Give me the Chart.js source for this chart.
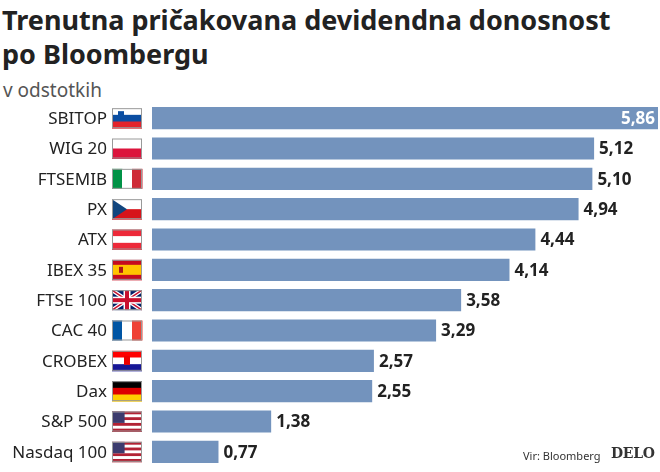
<!DOCTYPE html>
<html><head><meta charset="utf-8">
<script src="https://cdn.jsdelivr.net/npm/chart.js@4"></script>
<style>
body{margin:0;background:#fff;font-family:"Noto Sans",sans-serif;width:660px;height:472px;position:relative;overflow:hidden}
#t{position:absolute;left:2px;top:3px;font-size:27px;font-weight:bold;line-height:34px;color:#222;letter-spacing:0}
#s{position:absolute;left:3px;top:77px;font-size:19px;color:#555}
#wrap{position:absolute;left:0;top:103px;width:660px;height:364px}
#vir{position:absolute;left:523px;top:448px;font-size:11px;color:#333}
#delo{position:absolute;left:611px;top:445px;font-size:14px;font-weight:bold;font-family:"DejaVu Serif","Liberation Serif",serif;color:#333;letter-spacing:-0.3px}
</style></head><body>
<div id="t">Trenutna pričakovana devidendna donosnost<br>po Bloombergu</div>
<div id="s">v odstotkih</div>
<div id="wrap"><canvas id="c"></canvas></div>
<div id="vir">Vir: Bloomberg</div>
<div id="delo">DELO</div>
<script>
const labels = ['SBITOP','WIG 20','FTSEMIB','PX','ATX','IBEX 35','FTSE 100','CAC 40','CROBEX','Dax','S&P 500','Nasdaq 100'];
const values = [5.86,5.12,5.10,4.94,4.44,4.14,3.58,3.29,2.57,2.55,1.38,0.77];
const flags = ['si','pl','it','cz','at','es','gb','fr','hr','de','us','us'];

function drawFlag(ctx, f, x, y, w, h){
  ctx.save();
  const hs=(cols,rat)=>{let tot=rat.reduce((a,b)=>a+b),yy=y;cols.forEach((c,i)=>{const hh=h*rat[i]/tot;ctx.fillStyle=c;ctx.fillRect(x,yy,w,hh+0.5);yy+=hh;});};
  const vs=(cols)=>{cols.forEach((c,i)=>{ctx.fillStyle=c;ctx.fillRect(x+w*i/3,y,w/3+0.5,h);});};
  if(f==='si'){hs(['#fff','#0b4ea2','#e3232b'],[1,1,1]);ctx.fillStyle='#0b4ea2';ctx.fillRect(x+6,y+3,6,7);}
  else if(f==='pl')hs(['#fff','#dc143c'],[1,1]);
  else if(f==='it')vs(['#009246','#fff','#ce2b37']);
  else if(f==='cz'){hs(['#fff','#d7141a'],[1,1]);ctx.fillStyle='#11457e';ctx.beginPath();ctx.moveTo(x,y);ctx.lineTo(x+w/2,y+h/2);ctx.lineTo(x,y+h);ctx.fill();}
  else if(f==='at')hs(['#ed2939','#fff','#ed2939'],[1,1,1]);
  else if(f==='es'){hs(['#c60b1e','#ffc400','#c60b1e'],[1,2,1]);ctx.fillStyle='#ad1519';ctx.fillRect(x+7,y+7,4,6);}
  else if(f==='fr')vs(['#0055a4','#fff','#ef4135']);
  else if(f==='hr'){hs(['#ff0000','#fff','#171796'],[1,1,1]);ctx.fillStyle='#e00';ctx.fillRect(x+12,y+5,6,9);}
  else if(f==='de')hs(['#000','#dd0000','#ffce00'],[1,1,1]);
  else if(f==='gb'){
    ctx.fillStyle='#012169';ctx.fillRect(x,y,w,h);
    ctx.beginPath();ctx.rect(x,y,w,h);ctx.clip();
    ctx.strokeStyle='#fff';ctx.lineWidth=4;ctx.beginPath();ctx.moveTo(x,y);ctx.lineTo(x+w,y+h);ctx.moveTo(x+w,y);ctx.lineTo(x,y+h);ctx.stroke();
    ctx.strokeStyle='#c8102e';ctx.lineWidth=1.5;ctx.stroke();
    ctx.fillStyle='#fff';ctx.fillRect(x+w/2-3.5,y,7,h);ctx.fillRect(x,y+h/2-3.5,w,7);
    ctx.fillStyle='#c8102e';ctx.fillRect(x+w/2-2,y,4,h);ctx.fillRect(x,y+h/2-2,w,4);
  } else if(f==='us'){
    for(let i=0;i<7;i++){ctx.fillStyle=i%2?'#fff':'#b22234';ctx.fillRect(x,y+h*i/7,w,h/7+0.5);}
    ctx.fillStyle='#3c3b6e';ctx.fillRect(x,y,w*0.42,h*4/7);
  }
  ctx.restore();
  ctx.strokeStyle='#999';ctx.lineWidth=1;ctx.strokeRect(x+0.5,y+0.5,w-1,h-1);
}

const side = {
  id:'side',
  afterDatasetsDraw(chart){
    const ctx=chart.ctx, meta=chart.getDatasetMeta(0);
    ctx.save();
    meta.data.forEach((bar,i)=>{
      const yc=bar.y;
      ctx.font='17px "Noto Sans", sans-serif';ctx.fillStyle='#222';ctx.textAlign='right';ctx.textBaseline='middle';
      ctx.fillText(labels[i],107,yc+1);
      drawFlag(ctx,flags[i],112,yc-10,30,20);
      const txt=values[i].toFixed(2).replace('.',',');
      ctx.font='bold 17px "Noto Sans", sans-serif';
      if(i===0){ctx.fillStyle='#fff';ctx.textAlign='right';ctx.fillText(txt,bar.x-3,yc+1);}
      else{ctx.fillStyle='#222';ctx.textAlign='left';ctx.fillText(txt,bar.x+5,yc+1);}
    });
    ctx.restore();
  }
};

new Chart(document.getElementById('c'),{
  type:'bar',
  data:{labels:labels,datasets:[{data:values,backgroundColor:'#7393bd',barPercentage:1,categoryPercentage:22/30}]},
  options:{
    indexAxis:'y',responsive:true,maintainAspectRatio:false,animation:false,
    layout:{padding:{left:152,right:2,top:0,bottom:0}},
    plugins:{legend:{display:false},tooltip:{enabled:false}},
    scales:{x:{display:false,min:0,max:5.86},y:{display:false}}
  },
  plugins:[side]
});
</script>
</body></html>
